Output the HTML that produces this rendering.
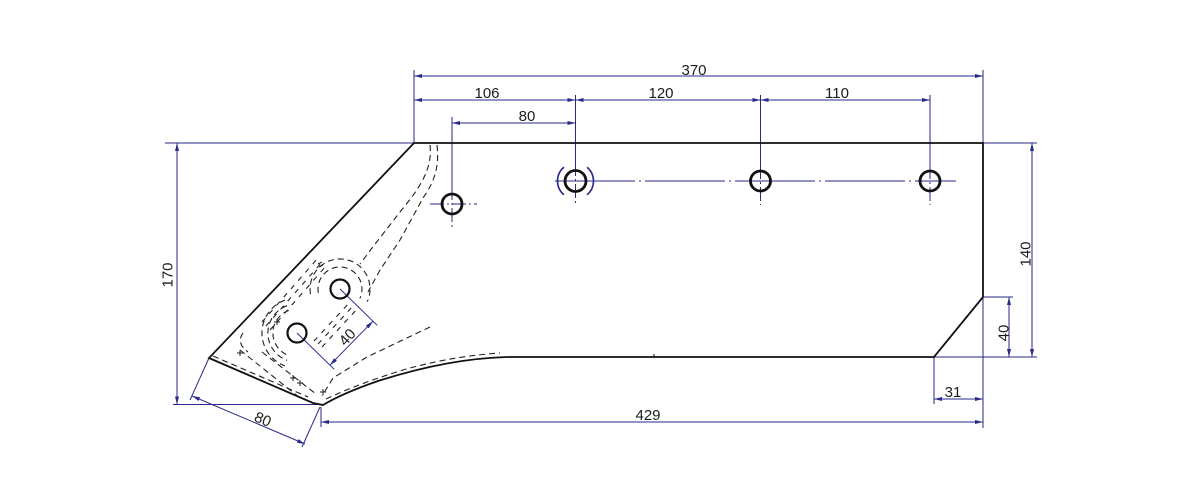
<!DOCTYPE html>
<html><head><meta charset="utf-8"><style>
html,body{margin:0;padding:0;background:#fff;}
svg{display:block;}
text{font-family:"Liberation Sans",Arial,sans-serif;font-size:15px;fill:#1c1c1c;}
</style></head><body>
<svg width="1200" height="500" viewBox="0 0 1200 500" xmlns="http://www.w3.org/2000/svg">
<defs>
<marker id="a" viewBox="0 0 8 4" refX="8" refY="2" markerWidth="8" markerHeight="4" markerUnits="userSpaceOnUse" orient="auto-start-reverse"><path d="M0,0 L8,2 L0,4 Z" fill="#2a2a8a"/></marker>
</defs>
<rect width="1200" height="500" fill="#fff"/>

<!-- extension lines -->
<g stroke="#2a2a8a" stroke-width="1" fill="none">
<path d="M165,143 H414"/>
<path d="M983,143 H1037"/>
<path d="M414,70 V143"/>
<path d="M983,70 V428"/>
<path d="M934,357 H1037"/>
<path d="M983,297 H1013"/>
<path d="M934,357 V404"/>
<path d="M321,407 V427"/>
<path d="M173,404.5 H320"/>
<path d="M209,358 L190,400"/>
<path d="M320,407 L302,447"/>
<path d="M297,333 L334.2,369.3"/>
<path d="M340,289 L377.2,325.3"/>
<path d="M575.5,95 V162"/>
<path d="M760.5,95 V165"/>
<path d="M930,95 V165"/>
<path d="M452,117 V186"/>
</g>
<!-- center lines -->
<g stroke="#2a2a8a" stroke-width="1" fill="none" stroke-dasharray="14 3 2 3">
<path d="M575.5,162 V204"/>
<path d="M760.5,165 V205"/>
<path d="M930,165 V205"/>
<path d="M452,186 V228"/>
<path d="M430,204 H477"/>
</g>
<path d="M555,181 H956" stroke="#2a2a8a" stroke-width="1" fill="none" stroke-dasharray="80 4 2 4"/>

<!-- dimension lines -->
<g stroke="#2a2a8a" stroke-width="1" fill="none" marker-start="url(#a)" marker-end="url(#a)">
<path d="M414,76 H983"/>
<path d="M414,100 H575.5"/>
<path d="M575.5,100 H760.5"/>
<path d="M760.5,100 H930"/>
<path d="M452,123 H575.5"/>
<path d="M177,143 V404.5"/>
<path d="M321,422 H983"/>
<path d="M934,399 H983"/>
<path d="M1032,143 V357"/>
<path d="M1009,297 V357"/>
<path d="M192,396 L305,444"/>
<path d="M329.9,365.2 L372.9,321.2"/>
</g>

<!-- hidden lines -->
<g stroke="#222" stroke-width="1.1" fill="none" stroke-dasharray="6 4">
<path d="M430,145 C433,170 418,190 400,212 L372,248 L360,264"/>
<path d="M437,145 C440,170 432,185 423,198 L400,240 L380,270 L368,292"/>
<path d="M318.3,292.8 A22,22 0 1 1 359.9,298.3"/>
<path d="M310.5,294.2 A30,30 0 1 1 367.2,301.7"/>
<path d="M288.8,310.4 A24,24 0 0 0 288.8,355.6"/>
<path d="M287.1,305.7 A29,29 0 0 0 287.1,360.3"/>
<path d="M285,300.1 A35,35 0 0 0 285,365.9"/>
<path d="M430,327 L367,357 L333,378 L322,396"/>
<path d="M326,399 C345,390 375,378 410,368 C440,360 470,355 500,353"/>
<path d="M213,356 L308,397"/>
<path d="M240,350 L300,398"/>
<path d="M262,352 L316,394"/>
<path d="M243,333 C238,340 240,346 248,352"/>
</g>
<g stroke="#222" stroke-width="1.1" fill="none" stroke-dasharray="5 6">
<path d="M262,322 L318,258"/>
<path d="M266,326 L322,262"/>
<path d="M270,330 L326,266"/>
<path d="M314,341 L350,302"/>
<path d="M318,344 L354,305"/>
<path d="M322,347 L358,308"/>
</g>
<g stroke="#222" stroke-width="1" fill="none">
<path d="M237,353 h6 M240,350 v6"/>
<path d="M290,378 h6 M293,375 v6"/>
<path d="M297,383 h6 M300,380 v6"/>
<path d="M320,392 h6 M323,389 v6"/>
<path d="M274,322 h6 M277,319 v6"/>
<path d="M318,264 l4,-2 M319,267 l4,-2"/>
</g>

<!-- outline -->
<path d="M414,143 H983 V297 L934,357 H507 C470,358 425,366 378,381 C352,390 333,399 323,405 L313,403 L209,358 Z" fill="none" stroke="#111" stroke-width="1.8" stroke-linejoin="miter"/>
<path d="M654,354 V357" stroke="#111" stroke-width="1"/>

<!-- holes -->
<g fill="none" stroke="#111" stroke-width="2.8">
<circle cx="452" cy="204" r="10"/>
<circle cx="575.5" cy="181" r="10.5"/>
<circle cx="760.5" cy="181" r="10"/>
<circle cx="930" cy="181" r="10"/>
<circle cx="297" cy="333" r="9.5" stroke-width="2.2"/>
<circle cx="340" cy="289" r="9.5" stroke-width="2.2"/>
</g>
<circle cx="575.5" cy="181" r="18" fill="none" stroke="#2a2a8a" stroke-width="1.6" stroke-dasharray="15.7 25.1 31.4 25.1 15.7"/>

<!-- texts -->
<text x="694" y="75" text-anchor="middle">370</text>
<text x="487" y="98" text-anchor="middle">106</text>
<text x="661" y="98" text-anchor="middle">120</text>
<text x="837" y="98" text-anchor="middle">110</text>
<text x="527" y="121" text-anchor="middle">80</text>
<text x="648" y="420" text-anchor="middle">429</text>
<text x="953" y="397" text-anchor="middle">31</text>
<text transform="translate(1025,254) rotate(-90)" x="0" y="5.3" text-anchor="middle">140</text>
<text transform="translate(1003,333) rotate(-90)" x="0" y="5.3" text-anchor="middle">40</text>
<text transform="translate(167,275) rotate(-90)" x="0" y="5.3" text-anchor="middle">170</text>
<text transform="translate(263,419) rotate(23)" x="0" y="5.3" text-anchor="middle">80</text>
<text transform="translate(347,337) rotate(-48)" x="0" y="5.3" text-anchor="middle">40</text>
</svg>
</body></html>
